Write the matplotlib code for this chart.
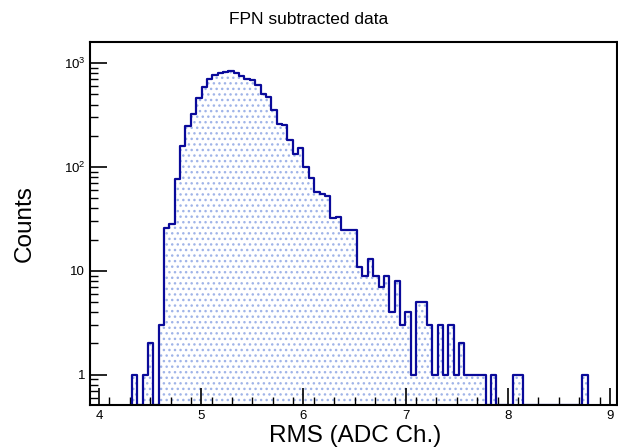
import numpy as np
import matplotlib.pyplot as plt
from matplotlib.ticker import FixedLocator, LogLocator, NullFormatter

plt.rcParams['font.family'] = ['Liberation Sans', 'DejaVu Sans']
plt.rcParams['mathtext.fontset'] = 'custom'
plt.rcParams['mathtext.rm'] = 'Liberation Sans'
plt.rcParams['mathtext.it'] = 'Liberation Sans'
plt.rcParams['hatch.linewidth'] = 1.0

# bin layout
x0 = 4.32
bw = 0.0525
counts = [1, 0, 1, 2, 0, 3, 26, 28, 76, 160, 248, 323, 457, 584, 700, 772, 807, 826, 845, 811,
          760, 710, 686, 611, 500, 477, 357, 258, 253, 183, 133, 152, 100, 79, 58, 55, 53, 32, 33, 25,
          25, 25, 11, 9, 13, 9, 7, 9, 4, 8, 3, 4, 1, 5, 5, 3, 1, 3, 1, 3,
          1, 2, 1, 1, 1, 1, 0, 1, 0, 0, 0, 1, 1, 0, 0, 0, 0, 0, 0, 0,
          0, 0, 0, 0, 1]
counts = np.array(counts, dtype=float)
edges = x0 + bw * np.arange(len(counts) + 1)

fig = plt.figure(figsize=(6.18, 4.48), dpi=100)
ax = fig.add_axes([90/618, 43/448, 527/618, 363/448])

bottom = 0.51
vals = np.where(counts > 0, counts, bottom)
xs = np.repeat(edges, 2)[1:-1]
ys = np.repeat(vals, 2)
ax.fill_between(xs, bottom, ys, facecolor='white', edgecolor='#a0b4e8', hatch='...', linewidth=0)
ax.plot(np.concatenate([[edges[0]], xs, [edges[-1]]]), np.concatenate([[bottom], ys, [bottom]]),
        color='#0a0a9a', lw=1.6)

ax.set_yscale('log')
ax.set_xlim(3.91, 9.07)
ax.set_ylim(bottom, 1600)
ax.set_yticks([1, 10, 100, 1000])
ax.set_yticklabels(['1', '10', r'$10^{2}$', r'$10^{3}$'])
ax.yaxis.set_minor_locator(LogLocator(subs=np.arange(2, 10)))
ax.yaxis.set_minor_formatter(NullFormatter())
ax.set_xticks([4, 5, 6, 7, 8, 9])
ax.xaxis.set_minor_locator(FixedLocator(np.arange(3.9, 9.1, 0.2)))
ax.tick_params(direction='in', which='major', length=12, width=1.2, labelsize=9.5, top=False, right=False)
ax.tick_params(direction='in', which='minor', length=6, width=1, top=False, right=False)
for s in ax.spines.values():
    s.set_linewidth(1.5)

ax.set_xlabel('RMS (ADC Ch.)', fontsize=17.5)
ax.xaxis.set_label_coords(0.503, -0.055)
ax.set_ylabel('Counts', fontsize=17.5, labelpad=20)
fig.text(0.5, 0.957, 'FPN subtracted data', ha='center', va='center', fontsize=12.5)

fig.savefig('out.png', dpi=100)
